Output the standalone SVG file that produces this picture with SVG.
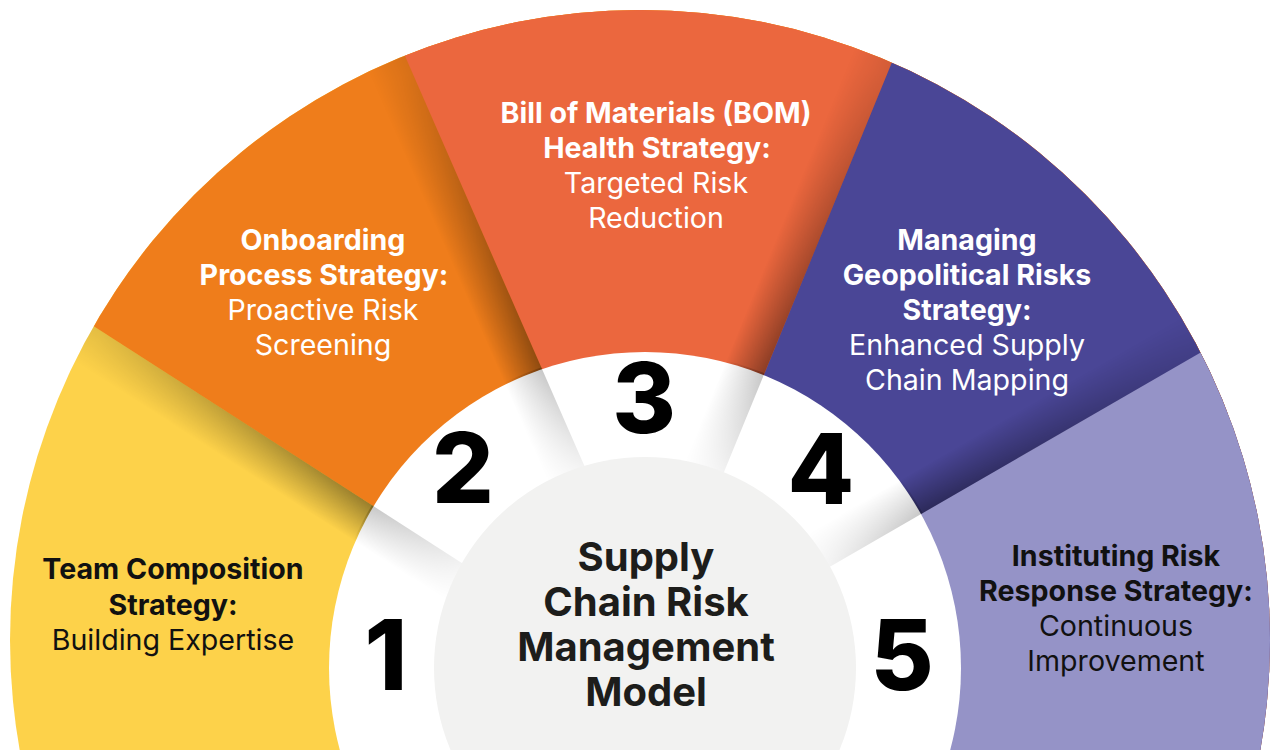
<svg xmlns="http://www.w3.org/2000/svg" width="1276" height="750" viewBox="0 0 1276 750">
  <defs>
    <style>
      .lbl { font-family: Inter, "Liberation Sans", sans-serif; font-size: 28.6px; text-anchor: middle; }
      .b { font-weight: 700; }
      .r { font-weight: 400; }
      .w { fill: #ffffff; }
      .k { fill: #111111; }
      .num { font-family: Inter, "Liberation Sans", sans-serif; font-size: 97px; font-weight: 800; fill: #000000; text-anchor: middle; }
      .core { font-family: Inter, "Liberation Sans", sans-serif; font-size: 40px; font-weight: 700; fill: #1d1d1b; text-anchor: middle; }
    </style>
    <clipPath id="fanClip">
      <circle cx="640" cy="640" r="630"/>
    </clipPath>
    <clipPath id="ringClip">
      <circle cx="645" cy="668" r="318"/>
    </clipPath>
    <!-- shadows fade toward the outer rim -->
    <radialGradient id="fadeOut" gradientUnits="userSpaceOnUse" cx="645" cy="668" r="640">
      <stop offset="0.5" stop-color="#ffffff"/>
      <stop offset="1" stop-color="#404040"/>
    </radialGradient>
    <mask id="fanFade" maskUnits="userSpaceOnUse" x="0" y="0" width="1276" height="750">
      <rect x="0" y="0" width="1276" height="750" fill="url(#fadeOut)"/>
    </mask>
    <!-- ring shadows fade toward the hub -->
    <radialGradient id="fadeIn" gradientUnits="userSpaceOnUse" cx="645" cy="668" r="318">
      <stop offset="0.62" stop-color="#202020"/>
      <stop offset="1" stop-color="#ffffff"/>
    </radialGradient>
    <mask id="ringFade" maskUnits="userSpaceOnUse" x="0" y="0" width="1276" height="750">
      <rect x="0" y="0" width="1276" height="750" fill="url(#fadeIn)"/>
    </mask>
    <!-- perpendicular shadow gradients, one per boundary -->
    <linearGradient id="sh1" gradientUnits="userSpaceOnUse" x1="95" y1="327" x2="73.4" y2="360.6">
      <stop offset="0" stop-color="#000" stop-opacity="0.4"/>
      <stop offset="1" stop-color="#000" stop-opacity="0"/>
    </linearGradient>
    <linearGradient id="sh2" gradientUnits="userSpaceOnUse" x1="405" y1="56" x2="368.4" y2="72">
      <stop offset="0" stop-color="#000" stop-opacity="0.4"/>
      <stop offset="1" stop-color="#000" stop-opacity="0"/>
    </linearGradient>
    <linearGradient id="sh3" gradientUnits="userSpaceOnUse" x1="890" y1="67" x2="853" y2="51.8">
      <stop offset="0" stop-color="#000" stop-opacity="0.4"/>
      <stop offset="1" stop-color="#000" stop-opacity="0"/>
    </linearGradient>
    <linearGradient id="sh4" gradientUnits="userSpaceOnUse" x1="1205" y1="350" x2="1185" y2="315.4">
      <stop offset="0" stop-color="#000" stop-opacity="0.4"/>
      <stop offset="1" stop-color="#000" stop-opacity="0"/>
    </linearGradient>
    <linearGradient id="rs1" gradientUnits="userSpaceOnUse" x1="95" y1="327" x2="73.4" y2="360.6">
      <stop offset="0" stop-color="#000" stop-opacity="0.22"/>
      <stop offset="1" stop-color="#000" stop-opacity="0"/>
    </linearGradient>
    <linearGradient id="rs2" gradientUnits="userSpaceOnUse" x1="405" y1="56" x2="368.4" y2="72">
      <stop offset="0" stop-color="#000" stop-opacity="0.22"/>
      <stop offset="1" stop-color="#000" stop-opacity="0"/>
    </linearGradient>
    <linearGradient id="rs3" gradientUnits="userSpaceOnUse" x1="890" y1="67" x2="853" y2="51.8">
      <stop offset="0" stop-color="#000" stop-opacity="0.22"/>
      <stop offset="1" stop-color="#000" stop-opacity="0"/>
    </linearGradient>
    <linearGradient id="rs4" gradientUnits="userSpaceOnUse" x1="1205" y1="350" x2="1185" y2="315.4">
      <stop offset="0" stop-color="#000" stop-opacity="0.22"/>
      <stop offset="1" stop-color="#000" stop-opacity="0"/>
    </linearGradient>
    <polygon id="strip1" points="61.4,305.4 535.2,610.2 513.6,643.8 39.8,339"/>
    <polygon id="strip2" points="389,19.4 618.2,543.2 581.6,559.2 352.4,35.4"/>
    <polygon id="strip3" points="905.2,30 691.2,552 654.2,536.8 868.2,14.8"/>
    <polygon id="strip4" points="1239.6,330 749.8,613 729.8,578.4 1219.6,295.4"/>
  </defs>

  <rect x="0" y="0" width="1276" height="750" fill="#ffffff"/>

  <!-- coloured fan: each later wedge overlaps the previous one -->
  <g id="wedges" clip-path="url(#fanClip)">
    <circle id="wedge-1" cx="640" cy="640" r="640" fill="#FDD24A"/>
    <polygon id="wedge-2" points="-746,-214 936,868 2018,-814 336,-1896" fill="#EF7D1B"/>
    <polygon id="wedge-3" points="4,-860 806,972 2638,170 1836,-1662" fill="#EB673E"/>
    <polygon id="wedge-4" points="1269,-858 511,992 2361,1750 3119,-100" fill="#4A4696"/>
    <polygon id="wedge-5" points="2071,-150 339,850 1339,2582 3071,1582" fill="#9593C7"/>
  </g>

  <!-- drop shadows along the wedge edges -->
  <g id="edge-shadows" clip-path="url(#fanClip)">
    <g mask="url(#fanFade)">
      <use href="#strip1" fill="url(#sh1)"/>
      <use href="#strip2" fill="url(#sh2)"/>
      <use href="#strip3" fill="url(#sh3)"/>
      <use href="#strip4" fill="url(#sh4)"/>
    </g>
  </g>

  <!-- white ring with soft shadows -->
  <g id="ring">
    <circle cx="645" cy="668" r="316" fill="#ffffff"/>
    <g clip-path="url(#ringClip)">
      <g mask="url(#ringFade)">
        <use href="#strip1" fill="url(#rs1)"/>
        <use href="#strip2" fill="url(#rs2)"/>
        <use href="#strip3" fill="url(#rs3)"/>
        <use href="#strip4" fill="url(#rs4)"/>
      </g>
    </g>
  </g>

  <!-- hub -->
  <g id="hub">
    <circle cx="645" cy="668" r="211" fill="#F2F2F1"/>
    <text class="core" x="646" y="571">Supply</text>
    <text class="core" x="646" y="616">Chain Risk</text>
    <text class="core" x="646" y="661">Management</text>
    <text class="core" x="646" y="706">Model</text>
  </g>

  <g id="node-1">
    <text class="lbl b k" x="173" y="579">Team Composition</text>
    <text class="lbl b k" x="173" y="615">Strategy:</text>
    <text class="lbl r k" x="173" y="650">Building Expertise</text>
    <text class="num" x="386" y="690">1</text>
  </g>

  <g id="node-2">
    <text class="lbl b w" x="323" y="250">Onboarding</text>
    <text class="lbl b w" x="324" y="285">Process Strategy:</text>
    <text class="lbl r w" x="323" y="320">Proactive Risk</text>
    <text class="lbl r w" x="323" y="355">Screening</text>
    <text class="num" x="463" y="503">2</text>
  </g>

  <g id="node-3">
    <text class="lbl b w" x="656" y="123">Bill of Materials (BOM)</text>
    <text class="lbl b w" x="657" y="158">Health Strategy:</text>
    <text class="lbl r w" x="656" y="193">Targeted Risk</text>
    <text class="lbl r w" x="656" y="228">Reduction</text>
    <text class="num" x="644" y="433">3</text>
  </g>

  <g id="node-4">
    <text class="lbl b w" x="967" y="250">Managing</text>
    <text class="lbl b w" x="967" y="285">Geopolitical Risks</text>
    <text class="lbl b w" x="967" y="320">Strategy:</text>
    <text class="lbl r w" x="967" y="355">Enhanced Supply</text>
    <text class="lbl r w" x="967" y="390">Chain Mapping</text>
    <text class="num" x="821" y="504">4</text>
  </g>

  <g id="node-5">
    <text class="lbl b k" x="1116" y="566">Instituting Risk</text>
    <text class="lbl b k" x="1116" y="601">Response Strategy:</text>
    <text class="lbl r k" x="1116" y="636">Continuous</text>
    <text class="lbl r k" x="1116" y="671">Improvement</text>
    <text class="num" x="902" y="690">5</text>
  </g>
</svg>
